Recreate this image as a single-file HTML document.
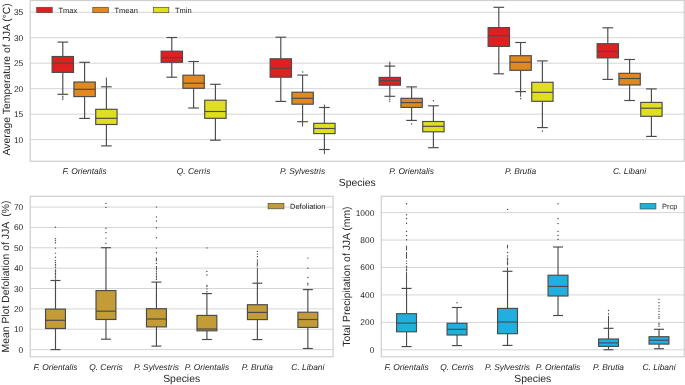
<!DOCTYPE html>
<html><head><meta charset="utf-8"><style>
html,body{margin:0;padding:0;background:#fff;width:685px;height:385px;overflow:hidden}
svg{display:block;font-family:"Liberation Sans",sans-serif;text-rendering:geometricPrecision}
</style></head><body>
<svg width="685" height="385" viewBox="0 0 685 385">
<rect width="685" height="385" fill="#fff"/>
<line x1="30.25" y1="12.28" x2="684.25" y2="12.28" stroke="#d5d5d5" stroke-width="1"/>
<line x1="30.25" y1="37.74" x2="684.25" y2="37.74" stroke="#d5d5d5" stroke-width="1"/>
<line x1="30.25" y1="63.20" x2="684.25" y2="63.20" stroke="#d5d5d5" stroke-width="1"/>
<line x1="30.25" y1="88.66" x2="684.25" y2="88.66" stroke="#d5d5d5" stroke-width="1"/>
<line x1="30.25" y1="114.12" x2="684.25" y2="114.12" stroke="#d5d5d5" stroke-width="1"/>
<line x1="30.25" y1="139.58" x2="684.25" y2="139.58" stroke="#d5d5d5" stroke-width="1"/>
<rect x="30.25" y="0.50" width="654.00" height="160.80" fill="none" stroke="#d0d0d0" stroke-width="1.25"/>
<line x1="62.80" y1="42.10" x2="62.80" y2="56.50" stroke="#4a4a4a" stroke-width="1.15"/>
<line x1="62.80" y1="72.40" x2="62.80" y2="94.30" stroke="#4a4a4a" stroke-width="1.15"/>
<line x1="57.46" y1="42.10" x2="68.14" y2="42.10" stroke="#4a4a4a" stroke-width="1.15"/>
<line x1="57.46" y1="94.30" x2="68.14" y2="94.30" stroke="#4a4a4a" stroke-width="1.15"/>
<rect x="52.12" y="56.50" width="21.36" height="15.90" fill="#df2020" stroke="#4a4a4a" stroke-width="1.15"/>
<line x1="52.12" y1="63.10" x2="73.48" y2="63.10" stroke="#4a4a4a" stroke-width="1.15"/>
<circle cx="62.80" cy="96.20" r="0.7" fill="#4a4a4a"/>
<circle cx="62.80" cy="97.70" r="0.7" fill="#4a4a4a"/>
<circle cx="62.80" cy="99.30" r="0.7" fill="#4a4a4a"/>
<line x1="84.60" y1="62.30" x2="84.60" y2="82.00" stroke="#4a4a4a" stroke-width="1.15"/>
<line x1="84.60" y1="96.60" x2="84.60" y2="118.40" stroke="#4a4a4a" stroke-width="1.15"/>
<line x1="79.26" y1="62.30" x2="89.94" y2="62.30" stroke="#4a4a4a" stroke-width="1.15"/>
<line x1="79.26" y1="118.40" x2="89.94" y2="118.40" stroke="#4a4a4a" stroke-width="1.15"/>
<rect x="73.92" y="82.00" width="21.36" height="14.60" fill="#df8920" stroke="#4a4a4a" stroke-width="1.15"/>
<line x1="73.92" y1="89.30" x2="95.28" y2="89.30" stroke="#4a4a4a" stroke-width="1.15"/>
<line x1="106.40" y1="86.80" x2="106.40" y2="109.30" stroke="#4a4a4a" stroke-width="1.15"/>
<line x1="106.40" y1="124.50" x2="106.40" y2="145.90" stroke="#4a4a4a" stroke-width="1.15"/>
<line x1="101.06" y1="86.80" x2="111.74" y2="86.80" stroke="#4a4a4a" stroke-width="1.15"/>
<line x1="101.06" y1="145.90" x2="111.74" y2="145.90" stroke="#4a4a4a" stroke-width="1.15"/>
<rect x="95.72" y="109.30" width="21.36" height="15.20" fill="#dfdf20" stroke="#4a4a4a" stroke-width="1.15"/>
<line x1="95.72" y1="118.30" x2="117.08" y2="118.30" stroke="#4a4a4a" stroke-width="1.15"/>
<circle cx="106.40" cy="78.30" r="0.7" fill="#4a4a4a"/>
<line x1="106.40" y1="79.00" x2="106.40" y2="86.80" stroke="#4a4a4a" stroke-width="1.0"/>
<line x1="171.80" y1="37.50" x2="171.80" y2="51.20" stroke="#4a4a4a" stroke-width="1.15"/>
<line x1="171.80" y1="62.30" x2="171.80" y2="77.20" stroke="#4a4a4a" stroke-width="1.15"/>
<line x1="166.46" y1="37.50" x2="177.14" y2="37.50" stroke="#4a4a4a" stroke-width="1.15"/>
<line x1="166.46" y1="77.20" x2="177.14" y2="77.20" stroke="#4a4a4a" stroke-width="1.15"/>
<rect x="161.12" y="51.20" width="21.36" height="11.10" fill="#df2020" stroke="#4a4a4a" stroke-width="1.15"/>
<line x1="161.12" y1="57.60" x2="182.48" y2="57.60" stroke="#4a4a4a" stroke-width="1.15"/>
<line x1="193.60" y1="61.50" x2="193.60" y2="75.20" stroke="#4a4a4a" stroke-width="1.15"/>
<line x1="193.60" y1="88.30" x2="193.60" y2="108.00" stroke="#4a4a4a" stroke-width="1.15"/>
<line x1="188.26" y1="61.50" x2="198.94" y2="61.50" stroke="#4a4a4a" stroke-width="1.15"/>
<line x1="188.26" y1="108.00" x2="198.94" y2="108.00" stroke="#4a4a4a" stroke-width="1.15"/>
<rect x="182.92" y="75.20" width="21.36" height="13.10" fill="#df8920" stroke="#4a4a4a" stroke-width="1.15"/>
<line x1="182.92" y1="83.20" x2="204.28" y2="83.20" stroke="#4a4a4a" stroke-width="1.15"/>
<line x1="215.40" y1="84.30" x2="215.40" y2="100.20" stroke="#4a4a4a" stroke-width="1.15"/>
<line x1="215.40" y1="118.30" x2="215.40" y2="140.20" stroke="#4a4a4a" stroke-width="1.15"/>
<line x1="210.06" y1="84.30" x2="220.74" y2="84.30" stroke="#4a4a4a" stroke-width="1.15"/>
<line x1="210.06" y1="140.20" x2="220.74" y2="140.20" stroke="#4a4a4a" stroke-width="1.15"/>
<rect x="204.72" y="100.20" width="21.36" height="18.10" fill="#dfdf20" stroke="#4a4a4a" stroke-width="1.15"/>
<line x1="204.72" y1="111.50" x2="226.08" y2="111.50" stroke="#4a4a4a" stroke-width="1.15"/>
<line x1="280.80" y1="37.20" x2="280.80" y2="58.80" stroke="#4a4a4a" stroke-width="1.15"/>
<line x1="280.80" y1="77.20" x2="280.80" y2="101.40" stroke="#4a4a4a" stroke-width="1.15"/>
<line x1="275.46" y1="37.20" x2="286.14" y2="37.20" stroke="#4a4a4a" stroke-width="1.15"/>
<line x1="275.46" y1="101.40" x2="286.14" y2="101.40" stroke="#4a4a4a" stroke-width="1.15"/>
<rect x="270.12" y="58.80" width="21.36" height="18.40" fill="#df2020" stroke="#4a4a4a" stroke-width="1.15"/>
<line x1="270.12" y1="68.20" x2="291.48" y2="68.20" stroke="#4a4a4a" stroke-width="1.15"/>
<line x1="302.60" y1="75.10" x2="302.60" y2="92.20" stroke="#4a4a4a" stroke-width="1.15"/>
<line x1="302.60" y1="104.20" x2="302.60" y2="121.70" stroke="#4a4a4a" stroke-width="1.15"/>
<line x1="297.26" y1="75.10" x2="307.94" y2="75.10" stroke="#4a4a4a" stroke-width="1.15"/>
<line x1="297.26" y1="121.70" x2="307.94" y2="121.70" stroke="#4a4a4a" stroke-width="1.15"/>
<rect x="291.92" y="92.20" width="21.36" height="12.00" fill="#df8920" stroke="#4a4a4a" stroke-width="1.15"/>
<line x1="291.92" y1="98.30" x2="313.28" y2="98.30" stroke="#4a4a4a" stroke-width="1.15"/>
<circle cx="302.60" cy="72.00" r="0.7" fill="#4a4a4a"/>
<line x1="302.60" y1="121.70" x2="302.60" y2="126.50" stroke="#4a4a4a" stroke-width="1.0"/>
<line x1="324.40" y1="107.50" x2="324.40" y2="123.30" stroke="#4a4a4a" stroke-width="1.15"/>
<line x1="324.40" y1="133.60" x2="324.40" y2="149.50" stroke="#4a4a4a" stroke-width="1.15"/>
<line x1="319.06" y1="107.50" x2="329.74" y2="107.50" stroke="#4a4a4a" stroke-width="1.15"/>
<line x1="319.06" y1="149.50" x2="329.74" y2="149.50" stroke="#4a4a4a" stroke-width="1.15"/>
<rect x="313.72" y="123.30" width="21.36" height="10.30" fill="#dfdf20" stroke="#4a4a4a" stroke-width="1.15"/>
<line x1="313.72" y1="128.50" x2="335.08" y2="128.50" stroke="#4a4a4a" stroke-width="1.15"/>
<line x1="324.40" y1="104.60" x2="324.40" y2="107.50" stroke="#4a4a4a" stroke-width="1.0"/>
<line x1="324.40" y1="149.50" x2="324.40" y2="154.20" stroke="#4a4a4a" stroke-width="1.0"/>
<line x1="389.80" y1="66.10" x2="389.80" y2="77.40" stroke="#4a4a4a" stroke-width="1.15"/>
<line x1="389.80" y1="85.20" x2="389.80" y2="96.30" stroke="#4a4a4a" stroke-width="1.15"/>
<line x1="384.46" y1="66.10" x2="395.14" y2="66.10" stroke="#4a4a4a" stroke-width="1.15"/>
<line x1="384.46" y1="96.30" x2="395.14" y2="96.30" stroke="#4a4a4a" stroke-width="1.15"/>
<rect x="379.12" y="77.40" width="21.36" height="7.80" fill="#df2020" stroke="#4a4a4a" stroke-width="1.15"/>
<line x1="379.12" y1="80.70" x2="400.48" y2="80.70" stroke="#4a4a4a" stroke-width="1.15"/>
<circle cx="389.80" cy="62.10" r="0.7" fill="#4a4a4a"/>
<circle cx="389.80" cy="63.40" r="0.7" fill="#4a4a4a"/>
<circle cx="389.80" cy="64.70" r="0.7" fill="#4a4a4a"/>
<circle cx="389.80" cy="66.00" r="0.7" fill="#4a4a4a"/>
<circle cx="389.80" cy="97.90" r="0.7" fill="#4a4a4a"/>
<circle cx="389.80" cy="99.75" r="0.7" fill="#4a4a4a"/>
<circle cx="389.80" cy="101.60" r="0.7" fill="#4a4a4a"/>
<line x1="411.60" y1="86.90" x2="411.60" y2="98.30" stroke="#4a4a4a" stroke-width="1.15"/>
<line x1="411.60" y1="107.40" x2="411.60" y2="120.40" stroke="#4a4a4a" stroke-width="1.15"/>
<line x1="406.26" y1="86.90" x2="416.94" y2="86.90" stroke="#4a4a4a" stroke-width="1.15"/>
<line x1="406.26" y1="120.40" x2="416.94" y2="120.40" stroke="#4a4a4a" stroke-width="1.15"/>
<rect x="400.92" y="98.30" width="21.36" height="9.10" fill="#df8920" stroke="#4a4a4a" stroke-width="1.15"/>
<line x1="400.92" y1="102.60" x2="422.28" y2="102.60" stroke="#4a4a4a" stroke-width="1.15"/>
<circle cx="411.60" cy="124.00" r="0.7" fill="#4a4a4a"/>
<line x1="433.40" y1="105.80" x2="433.40" y2="121.50" stroke="#4a4a4a" stroke-width="1.15"/>
<line x1="433.40" y1="131.80" x2="433.40" y2="147.70" stroke="#4a4a4a" stroke-width="1.15"/>
<line x1="428.06" y1="105.80" x2="438.74" y2="105.80" stroke="#4a4a4a" stroke-width="1.15"/>
<line x1="428.06" y1="147.70" x2="438.74" y2="147.70" stroke="#4a4a4a" stroke-width="1.15"/>
<rect x="422.72" y="121.50" width="21.36" height="10.30" fill="#dfdf20" stroke="#4a4a4a" stroke-width="1.15"/>
<line x1="422.72" y1="126.30" x2="444.08" y2="126.30" stroke="#4a4a4a" stroke-width="1.15"/>
<circle cx="433.40" cy="100.80" r="0.7" fill="#4a4a4a"/>
<line x1="498.80" y1="7.30" x2="498.80" y2="27.60" stroke="#4a4a4a" stroke-width="1.15"/>
<line x1="498.80" y1="46.40" x2="498.80" y2="73.80" stroke="#4a4a4a" stroke-width="1.15"/>
<line x1="493.46" y1="7.30" x2="504.14" y2="7.30" stroke="#4a4a4a" stroke-width="1.15"/>
<line x1="493.46" y1="73.80" x2="504.14" y2="73.80" stroke="#4a4a4a" stroke-width="1.15"/>
<rect x="488.12" y="27.60" width="21.36" height="18.80" fill="#df2020" stroke="#4a4a4a" stroke-width="1.15"/>
<line x1="488.12" y1="35.80" x2="509.48" y2="35.80" stroke="#4a4a4a" stroke-width="1.15"/>
<line x1="520.60" y1="42.50" x2="520.60" y2="55.70" stroke="#4a4a4a" stroke-width="1.15"/>
<line x1="520.60" y1="70.30" x2="520.60" y2="91.60" stroke="#4a4a4a" stroke-width="1.15"/>
<line x1="515.26" y1="42.50" x2="525.94" y2="42.50" stroke="#4a4a4a" stroke-width="1.15"/>
<line x1="515.26" y1="91.60" x2="525.94" y2="91.60" stroke="#4a4a4a" stroke-width="1.15"/>
<rect x="509.92" y="55.70" width="21.36" height="14.60" fill="#df8920" stroke="#4a4a4a" stroke-width="1.15"/>
<line x1="509.92" y1="62.20" x2="531.28" y2="62.20" stroke="#4a4a4a" stroke-width="1.15"/>
<circle cx="520.60" cy="98.80" r="0.7" fill="#4a4a4a"/>
<line x1="520.60" y1="91.60" x2="520.60" y2="96.80" stroke="#4a4a4a" stroke-width="1.0"/>
<line x1="542.40" y1="60.90" x2="542.40" y2="82.30" stroke="#4a4a4a" stroke-width="1.15"/>
<line x1="542.40" y1="101.30" x2="542.40" y2="127.60" stroke="#4a4a4a" stroke-width="1.15"/>
<line x1="537.06" y1="60.90" x2="547.74" y2="60.90" stroke="#4a4a4a" stroke-width="1.15"/>
<line x1="537.06" y1="127.60" x2="547.74" y2="127.60" stroke="#4a4a4a" stroke-width="1.15"/>
<rect x="531.72" y="82.30" width="21.36" height="19.00" fill="#dfdf20" stroke="#4a4a4a" stroke-width="1.15"/>
<line x1="531.72" y1="92.30" x2="553.08" y2="92.30" stroke="#4a4a4a" stroke-width="1.15"/>
<circle cx="542.40" cy="131.00" r="0.7" fill="#4a4a4a"/>
<line x1="607.80" y1="27.80" x2="607.80" y2="43.70" stroke="#4a4a4a" stroke-width="1.15"/>
<line x1="607.80" y1="57.90" x2="607.80" y2="79.40" stroke="#4a4a4a" stroke-width="1.15"/>
<line x1="602.46" y1="27.80" x2="613.14" y2="27.80" stroke="#4a4a4a" stroke-width="1.15"/>
<line x1="602.46" y1="79.40" x2="613.14" y2="79.40" stroke="#4a4a4a" stroke-width="1.15"/>
<rect x="597.12" y="43.70" width="21.36" height="14.20" fill="#df2020" stroke="#4a4a4a" stroke-width="1.15"/>
<line x1="597.12" y1="51.50" x2="618.48" y2="51.50" stroke="#4a4a4a" stroke-width="1.15"/>
<line x1="629.60" y1="59.50" x2="629.60" y2="73.30" stroke="#4a4a4a" stroke-width="1.15"/>
<line x1="629.60" y1="85.00" x2="629.60" y2="100.50" stroke="#4a4a4a" stroke-width="1.15"/>
<line x1="624.26" y1="59.50" x2="634.94" y2="59.50" stroke="#4a4a4a" stroke-width="1.15"/>
<line x1="624.26" y1="100.50" x2="634.94" y2="100.50" stroke="#4a4a4a" stroke-width="1.15"/>
<rect x="618.92" y="73.30" width="21.36" height="11.70" fill="#df8920" stroke="#4a4a4a" stroke-width="1.15"/>
<line x1="618.92" y1="78.50" x2="640.28" y2="78.50" stroke="#4a4a4a" stroke-width="1.15"/>
<line x1="651.40" y1="88.90" x2="651.40" y2="102.40" stroke="#4a4a4a" stroke-width="1.15"/>
<line x1="651.40" y1="116.30" x2="651.40" y2="136.40" stroke="#4a4a4a" stroke-width="1.15"/>
<line x1="646.06" y1="88.90" x2="656.74" y2="88.90" stroke="#4a4a4a" stroke-width="1.15"/>
<line x1="646.06" y1="136.40" x2="656.74" y2="136.40" stroke="#4a4a4a" stroke-width="1.15"/>
<rect x="640.72" y="102.40" width="21.36" height="13.90" fill="#dfdf20" stroke="#4a4a4a" stroke-width="1.15"/>
<line x1="640.72" y1="108.20" x2="662.08" y2="108.20" stroke="#4a4a4a" stroke-width="1.15"/>
<rect x="36.70" y="7.30" width="15.50" height="5.40" fill="#df2020" stroke="#4a4a4a" stroke-width="0.7"/>
<rect x="92.80" y="7.30" width="15.50" height="5.40" fill="#df8920" stroke="#4a4a4a" stroke-width="0.7"/>
<rect x="153.30" y="7.30" width="15.50" height="5.40" fill="#dfdf20" stroke="#4a4a4a" stroke-width="0.7"/>
<line x1="30.25" y1="207.08" x2="333.10" y2="207.08" stroke="#d5d5d5" stroke-width="1"/>
<line x1="30.25" y1="227.44" x2="333.10" y2="227.44" stroke="#d5d5d5" stroke-width="1"/>
<line x1="30.25" y1="247.80" x2="333.10" y2="247.80" stroke="#d5d5d5" stroke-width="1"/>
<line x1="30.25" y1="268.16" x2="333.10" y2="268.16" stroke="#d5d5d5" stroke-width="1"/>
<line x1="30.25" y1="288.52" x2="333.10" y2="288.52" stroke="#d5d5d5" stroke-width="1"/>
<line x1="30.25" y1="308.88" x2="333.10" y2="308.88" stroke="#d5d5d5" stroke-width="1"/>
<line x1="30.25" y1="329.24" x2="333.10" y2="329.24" stroke="#d5d5d5" stroke-width="1"/>
<line x1="30.25" y1="349.60" x2="333.10" y2="349.60" stroke="#d5d5d5" stroke-width="1"/>
<rect x="30.25" y="196.30" width="302.85" height="160.50" fill="none" stroke="#d0d0d0" stroke-width="1.25"/>
<line x1="55.49" y1="280.50" x2="55.49" y2="309.10" stroke="#4a4a4a" stroke-width="1.15"/>
<line x1="55.49" y1="328.50" x2="55.49" y2="349.60" stroke="#4a4a4a" stroke-width="1.15"/>
<line x1="50.51" y1="280.50" x2="60.46" y2="280.50" stroke="#4a4a4a" stroke-width="1.15"/>
<line x1="50.51" y1="349.60" x2="60.46" y2="349.60" stroke="#4a4a4a" stroke-width="1.15"/>
<rect x="45.54" y="309.10" width="19.90" height="19.40" fill="#c39b37" stroke="#4a4a4a" stroke-width="1.15"/>
<line x1="45.54" y1="320.30" x2="65.44" y2="320.30" stroke="#4a4a4a" stroke-width="1.15"/>
<circle cx="55.49" cy="227.30" r="0.7" fill="#4a4a4a"/>
<circle cx="55.49" cy="238.75" r="0.7" fill="#4a4a4a"/>
<circle cx="55.49" cy="240.60" r="0.7" fill="#4a4a4a"/>
<circle cx="55.49" cy="242.70" r="0.7" fill="#4a4a4a"/>
<circle cx="55.49" cy="248.10" r="0.7" fill="#4a4a4a"/>
<circle cx="55.49" cy="253.10" r="0.7" fill="#4a4a4a"/>
<circle cx="55.49" cy="257.30" r="0.7" fill="#4a4a4a"/>
<circle cx="55.49" cy="260.60" r="0.7" fill="#4a4a4a"/>
<circle cx="55.49" cy="262.50" r="0.7" fill="#4a4a4a"/>
<circle cx="55.49" cy="264.40" r="0.7" fill="#4a4a4a"/>
<circle cx="55.49" cy="265.90" r="0.7" fill="#4a4a4a"/>
<circle cx="55.49" cy="267.60" r="0.7" fill="#4a4a4a"/>
<circle cx="55.49" cy="270.00" r="0.7" fill="#4a4a4a"/>
<circle cx="55.49" cy="271.00" r="0.7" fill="#4a4a4a"/>
<circle cx="55.49" cy="272.00" r="0.7" fill="#4a4a4a"/>
<circle cx="55.49" cy="273.40" r="0.7" fill="#4a4a4a"/>
<circle cx="55.49" cy="274.80" r="0.7" fill="#4a4a4a"/>
<circle cx="55.49" cy="276.20" r="0.7" fill="#4a4a4a"/>
<circle cx="55.49" cy="277.60" r="0.7" fill="#4a4a4a"/>
<circle cx="55.49" cy="279.00" r="0.7" fill="#4a4a4a"/>
<line x1="105.96" y1="247.70" x2="105.96" y2="290.60" stroke="#4a4a4a" stroke-width="1.15"/>
<line x1="105.96" y1="319.50" x2="105.96" y2="339.20" stroke="#4a4a4a" stroke-width="1.15"/>
<line x1="100.99" y1="247.70" x2="110.94" y2="247.70" stroke="#4a4a4a" stroke-width="1.15"/>
<line x1="100.99" y1="339.20" x2="110.94" y2="339.20" stroke="#4a4a4a" stroke-width="1.15"/>
<rect x="96.01" y="290.60" width="19.90" height="28.90" fill="#c39b37" stroke="#4a4a4a" stroke-width="1.15"/>
<line x1="96.01" y1="311.20" x2="115.91" y2="311.20" stroke="#4a4a4a" stroke-width="1.15"/>
<circle cx="105.96" cy="203.50" r="0.7" fill="#4a4a4a"/>
<circle cx="105.96" cy="207.40" r="0.7" fill="#4a4a4a"/>
<circle cx="105.96" cy="228.30" r="0.7" fill="#4a4a4a"/>
<circle cx="105.96" cy="232.80" r="0.7" fill="#4a4a4a"/>
<circle cx="105.96" cy="238.10" r="0.7" fill="#4a4a4a"/>
<circle cx="105.96" cy="243.20" r="0.7" fill="#4a4a4a"/>
<line x1="156.44" y1="282.10" x2="156.44" y2="308.70" stroke="#4a4a4a" stroke-width="1.15"/>
<line x1="156.44" y1="326.90" x2="156.44" y2="346.10" stroke="#4a4a4a" stroke-width="1.15"/>
<line x1="151.46" y1="282.10" x2="161.41" y2="282.10" stroke="#4a4a4a" stroke-width="1.15"/>
<line x1="151.46" y1="346.10" x2="161.41" y2="346.10" stroke="#4a4a4a" stroke-width="1.15"/>
<rect x="146.49" y="308.70" width="19.90" height="18.20" fill="#c39b37" stroke="#4a4a4a" stroke-width="1.15"/>
<line x1="146.49" y1="319.00" x2="166.39" y2="319.00" stroke="#4a4a4a" stroke-width="1.15"/>
<circle cx="156.44" cy="207.10" r="0.7" fill="#4a4a4a"/>
<circle cx="156.44" cy="216.90" r="0.7" fill="#4a4a4a"/>
<circle cx="156.44" cy="221.00" r="0.7" fill="#4a4a4a"/>
<circle cx="156.44" cy="227.70" r="0.7" fill="#4a4a4a"/>
<circle cx="156.44" cy="237.70" r="0.7" fill="#4a4a4a"/>
<circle cx="156.44" cy="248.10" r="0.7" fill="#4a4a4a"/>
<circle cx="156.44" cy="252.70" r="0.7" fill="#4a4a4a"/>
<circle cx="156.44" cy="263.40" r="0.7" fill="#4a4a4a"/>
<circle cx="156.44" cy="258.20" r="0.7" fill="#4a4a4a"/>
<circle cx="156.44" cy="259.50" r="0.7" fill="#4a4a4a"/>
<circle cx="156.44" cy="260.80" r="0.7" fill="#4a4a4a"/>
<line x1="156.44" y1="266.00" x2="156.44" y2="270.50" stroke="#4a4a4a" stroke-width="1.0"/>
<circle cx="156.44" cy="271.80" r="0.7" fill="#4a4a4a"/>
<circle cx="156.44" cy="273.34" r="0.7" fill="#4a4a4a"/>
<circle cx="156.44" cy="274.88" r="0.7" fill="#4a4a4a"/>
<circle cx="156.44" cy="276.42" r="0.7" fill="#4a4a4a"/>
<circle cx="156.44" cy="277.96" r="0.7" fill="#4a4a4a"/>
<circle cx="156.44" cy="279.50" r="0.7" fill="#4a4a4a"/>
<line x1="206.91" y1="293.60" x2="206.91" y2="315.40" stroke="#4a4a4a" stroke-width="1.15"/>
<line x1="206.91" y1="330.80" x2="206.91" y2="339.50" stroke="#4a4a4a" stroke-width="1.15"/>
<line x1="201.94" y1="293.60" x2="211.89" y2="293.60" stroke="#4a4a4a" stroke-width="1.15"/>
<line x1="201.94" y1="339.50" x2="211.89" y2="339.50" stroke="#4a4a4a" stroke-width="1.15"/>
<rect x="196.96" y="315.40" width="19.90" height="15.40" fill="#c39b37" stroke="#4a4a4a" stroke-width="1.15"/>
<line x1="196.96" y1="329.00" x2="216.86" y2="329.00" stroke="#4a4a4a" stroke-width="1.15"/>
<circle cx="206.91" cy="247.90" r="0.7" fill="#4a4a4a"/>
<circle cx="206.91" cy="271.40" r="0.7" fill="#4a4a4a"/>
<circle cx="206.91" cy="275.00" r="0.7" fill="#4a4a4a"/>
<circle cx="206.91" cy="285.40" r="0.7" fill="#4a4a4a"/>
<circle cx="206.91" cy="286.60" r="0.7" fill="#4a4a4a"/>
<circle cx="206.91" cy="288.90" r="0.7" fill="#4a4a4a"/>
<circle cx="206.91" cy="291.70" r="0.7" fill="#4a4a4a"/>
<line x1="257.39" y1="283.20" x2="257.39" y2="304.70" stroke="#4a4a4a" stroke-width="1.15"/>
<line x1="257.39" y1="319.60" x2="257.39" y2="339.60" stroke="#4a4a4a" stroke-width="1.15"/>
<line x1="252.41" y1="283.20" x2="262.36" y2="283.20" stroke="#4a4a4a" stroke-width="1.15"/>
<line x1="252.41" y1="339.60" x2="262.36" y2="339.60" stroke="#4a4a4a" stroke-width="1.15"/>
<rect x="247.44" y="304.70" width="19.90" height="14.90" fill="#c39b37" stroke="#4a4a4a" stroke-width="1.15"/>
<line x1="247.44" y1="312.40" x2="267.34" y2="312.40" stroke="#4a4a4a" stroke-width="1.15"/>
<circle cx="257.39" cy="251.40" r="0.7" fill="#4a4a4a"/>
<circle cx="257.39" cy="254.10" r="0.7" fill="#4a4a4a"/>
<circle cx="257.39" cy="256.70" r="0.7" fill="#4a4a4a"/>
<circle cx="257.39" cy="260.00" r="0.7" fill="#4a4a4a"/>
<circle cx="257.39" cy="262.00" r="0.7" fill="#4a4a4a"/>
<circle cx="257.39" cy="263.33" r="0.7" fill="#4a4a4a"/>
<circle cx="257.39" cy="264.67" r="0.7" fill="#4a4a4a"/>
<circle cx="257.39" cy="266.00" r="0.7" fill="#4a4a4a"/>
<line x1="257.39" y1="267.80" x2="257.39" y2="283.20" stroke="#4a4a4a" stroke-width="1.0"/>
<line x1="307.86" y1="289.60" x2="307.86" y2="312.20" stroke="#4a4a4a" stroke-width="1.15"/>
<line x1="307.86" y1="327.40" x2="307.86" y2="348.50" stroke="#4a4a4a" stroke-width="1.15"/>
<line x1="302.89" y1="289.60" x2="312.84" y2="289.60" stroke="#4a4a4a" stroke-width="1.15"/>
<line x1="302.89" y1="348.50" x2="312.84" y2="348.50" stroke="#4a4a4a" stroke-width="1.15"/>
<rect x="297.91" y="312.20" width="19.90" height="15.20" fill="#c39b37" stroke="#4a4a4a" stroke-width="1.15"/>
<line x1="297.91" y1="319.50" x2="317.81" y2="319.50" stroke="#4a4a4a" stroke-width="1.15"/>
<circle cx="307.86" cy="258.10" r="0.7" fill="#4a4a4a"/>
<circle cx="307.86" cy="268.20" r="0.7" fill="#4a4a4a"/>
<circle cx="307.86" cy="277.50" r="0.7" fill="#4a4a4a"/>
<circle cx="307.86" cy="283.50" r="0.7" fill="#4a4a4a"/>
<circle cx="307.86" cy="284.90" r="0.7" fill="#4a4a4a"/>
<rect x="268.10" y="203.40" width="15.80" height="5.40" fill="#c39b37" stroke="#4a4a4a" stroke-width="0.7"/>
<line x1="381.30" y1="212.60" x2="684.25" y2="212.60" stroke="#d5d5d5" stroke-width="1"/>
<line x1="381.30" y1="240.04" x2="684.25" y2="240.04" stroke="#d5d5d5" stroke-width="1"/>
<line x1="381.30" y1="267.48" x2="684.25" y2="267.48" stroke="#d5d5d5" stroke-width="1"/>
<line x1="381.30" y1="294.92" x2="684.25" y2="294.92" stroke="#d5d5d5" stroke-width="1"/>
<line x1="381.30" y1="322.36" x2="684.25" y2="322.36" stroke="#d5d5d5" stroke-width="1"/>
<line x1="381.30" y1="349.80" x2="684.25" y2="349.80" stroke="#d5d5d5" stroke-width="1"/>
<rect x="381.30" y="196.30" width="302.95" height="160.50" fill="none" stroke="#d0d0d0" stroke-width="1.25"/>
<line x1="406.55" y1="288.40" x2="406.55" y2="313.70" stroke="#4a4a4a" stroke-width="1.15"/>
<line x1="406.55" y1="331.80" x2="406.55" y2="346.60" stroke="#4a4a4a" stroke-width="1.15"/>
<line x1="401.57" y1="288.40" x2="411.52" y2="288.40" stroke="#4a4a4a" stroke-width="1.15"/>
<line x1="401.57" y1="346.60" x2="411.52" y2="346.60" stroke="#4a4a4a" stroke-width="1.15"/>
<rect x="396.60" y="313.70" width="19.90" height="18.10" fill="#20afdf" stroke="#4a4a4a" stroke-width="1.15"/>
<line x1="396.60" y1="323.10" x2="416.50" y2="323.10" stroke="#4a4a4a" stroke-width="1.15"/>
<circle cx="406.55" cy="203.70" r="0.7" fill="#4a4a4a"/>
<circle cx="406.55" cy="214.70" r="0.7" fill="#4a4a4a"/>
<circle cx="406.55" cy="218.50" r="0.7" fill="#4a4a4a"/>
<circle cx="406.55" cy="223.30" r="0.7" fill="#4a4a4a"/>
<circle cx="406.55" cy="231.40" r="0.7" fill="#4a4a4a"/>
<circle cx="406.55" cy="235.50" r="0.7" fill="#4a4a4a"/>
<circle cx="406.55" cy="239.70" r="0.7" fill="#4a4a4a"/>
<circle cx="406.55" cy="261.10" r="0.7" fill="#4a4a4a"/>
<circle cx="406.55" cy="263.60" r="0.7" fill="#4a4a4a"/>
<line x1="406.55" y1="245.70" x2="406.55" y2="250.50" stroke="#4a4a4a" stroke-width="1.0"/>
<line x1="406.55" y1="252.00" x2="406.55" y2="258.60" stroke="#4a4a4a" stroke-width="1.0"/>
<circle cx="406.55" cy="266.40" r="0.7" fill="#4a4a4a"/>
<circle cx="406.55" cy="267.83" r="0.7" fill="#4a4a4a"/>
<circle cx="406.55" cy="269.27" r="0.7" fill="#4a4a4a"/>
<circle cx="406.55" cy="270.70" r="0.7" fill="#4a4a4a"/>
<line x1="406.55" y1="272.10" x2="406.55" y2="288.40" stroke="#4a4a4a" stroke-width="1.0"/>
<line x1="457.04" y1="307.50" x2="457.04" y2="323.30" stroke="#4a4a4a" stroke-width="1.15"/>
<line x1="457.04" y1="335.00" x2="457.04" y2="345.60" stroke="#4a4a4a" stroke-width="1.15"/>
<line x1="452.06" y1="307.50" x2="462.01" y2="307.50" stroke="#4a4a4a" stroke-width="1.15"/>
<line x1="452.06" y1="345.60" x2="462.01" y2="345.60" stroke="#4a4a4a" stroke-width="1.15"/>
<rect x="447.09" y="323.30" width="19.90" height="11.70" fill="#20afdf" stroke="#4a4a4a" stroke-width="1.15"/>
<line x1="447.09" y1="329.30" x2="466.99" y2="329.30" stroke="#4a4a4a" stroke-width="1.15"/>
<circle cx="457.04" cy="302.80" r="0.7" fill="#4a4a4a"/>
<line x1="507.53" y1="271.30" x2="507.53" y2="308.40" stroke="#4a4a4a" stroke-width="1.15"/>
<line x1="507.53" y1="333.70" x2="507.53" y2="345.40" stroke="#4a4a4a" stroke-width="1.15"/>
<line x1="502.55" y1="271.30" x2="512.50" y2="271.30" stroke="#4a4a4a" stroke-width="1.15"/>
<line x1="502.55" y1="345.40" x2="512.50" y2="345.40" stroke="#4a4a4a" stroke-width="1.15"/>
<rect x="497.58" y="308.40" width="19.90" height="25.30" fill="#20afdf" stroke="#4a4a4a" stroke-width="1.15"/>
<line x1="497.58" y1="322.00" x2="517.48" y2="322.00" stroke="#4a4a4a" stroke-width="1.15"/>
<circle cx="507.53" cy="209.40" r="0.7" fill="#4a4a4a"/>
<circle cx="507.53" cy="252.50" r="0.7" fill="#4a4a4a"/>
<circle cx="507.53" cy="256.00" r="0.7" fill="#4a4a4a"/>
<line x1="507.53" y1="244.90" x2="507.53" y2="248.50" stroke="#4a4a4a" stroke-width="1.0"/>
<circle cx="507.53" cy="258.40" r="0.7" fill="#4a4a4a"/>
<circle cx="507.53" cy="259.68" r="0.7" fill="#4a4a4a"/>
<circle cx="507.53" cy="260.96" r="0.7" fill="#4a4a4a"/>
<circle cx="507.53" cy="262.24" r="0.7" fill="#4a4a4a"/>
<circle cx="507.53" cy="263.52" r="0.7" fill="#4a4a4a"/>
<circle cx="507.53" cy="264.80" r="0.7" fill="#4a4a4a"/>
<line x1="507.53" y1="267.20" x2="507.53" y2="271.30" stroke="#4a4a4a" stroke-width="1.0"/>
<line x1="558.02" y1="247.00" x2="558.02" y2="275.20" stroke="#4a4a4a" stroke-width="1.15"/>
<line x1="558.02" y1="296.00" x2="558.02" y2="315.50" stroke="#4a4a4a" stroke-width="1.15"/>
<line x1="553.05" y1="247.00" x2="563.00" y2="247.00" stroke="#4a4a4a" stroke-width="1.15"/>
<line x1="553.05" y1="315.50" x2="563.00" y2="315.50" stroke="#4a4a4a" stroke-width="1.15"/>
<rect x="548.07" y="275.20" width="19.90" height="20.80" fill="#20afdf" stroke="#4a4a4a" stroke-width="1.15"/>
<line x1="548.07" y1="286.40" x2="567.97" y2="286.40" stroke="#4a4a4a" stroke-width="1.15"/>
<circle cx="558.02" cy="203.70" r="0.7" fill="#4a4a4a"/>
<circle cx="558.02" cy="218.50" r="0.7" fill="#4a4a4a"/>
<circle cx="558.02" cy="223.50" r="0.7" fill="#4a4a4a"/>
<circle cx="558.02" cy="231.40" r="0.7" fill="#4a4a4a"/>
<circle cx="558.02" cy="235.50" r="0.7" fill="#4a4a4a"/>
<circle cx="558.02" cy="239.30" r="0.7" fill="#4a4a4a"/>
<line x1="608.51" y1="328.30" x2="608.51" y2="339.00" stroke="#4a4a4a" stroke-width="1.15"/>
<line x1="608.51" y1="346.40" x2="608.51" y2="349.70" stroke="#4a4a4a" stroke-width="1.15"/>
<line x1="603.54" y1="328.30" x2="613.49" y2="328.30" stroke="#4a4a4a" stroke-width="1.15"/>
<line x1="603.54" y1="349.70" x2="613.49" y2="349.70" stroke="#4a4a4a" stroke-width="1.15"/>
<rect x="598.56" y="339.00" width="19.90" height="7.40" fill="#20afdf" stroke="#4a4a4a" stroke-width="1.15"/>
<line x1="598.56" y1="342.90" x2="618.46" y2="342.90" stroke="#4a4a4a" stroke-width="1.15"/>
<circle cx="608.51" cy="310.50" r="0.7" fill="#4a4a4a"/>
<line x1="608.51" y1="313.20" x2="608.51" y2="314.70" stroke="#4a4a4a" stroke-width="1.0"/>
<line x1="608.51" y1="315.90" x2="608.51" y2="328.30" stroke="#4a4a4a" stroke-width="1.0"/>
<line x1="659.00" y1="329.30" x2="659.00" y2="336.70" stroke="#4a4a4a" stroke-width="1.15"/>
<line x1="659.00" y1="344.10" x2="659.00" y2="348.70" stroke="#4a4a4a" stroke-width="1.15"/>
<line x1="654.03" y1="329.30" x2="663.98" y2="329.30" stroke="#4a4a4a" stroke-width="1.15"/>
<line x1="654.03" y1="348.70" x2="663.98" y2="348.70" stroke="#4a4a4a" stroke-width="1.15"/>
<rect x="649.05" y="336.70" width="19.90" height="7.40" fill="#20afdf" stroke="#4a4a4a" stroke-width="1.15"/>
<line x1="649.05" y1="340.20" x2="668.95" y2="340.20" stroke="#4a4a4a" stroke-width="1.15"/>
<circle cx="659.00" cy="299.40" r="0.7" fill="#4a4a4a"/>
<circle cx="659.00" cy="302.80" r="0.7" fill="#4a4a4a"/>
<circle cx="659.00" cy="305.90" r="0.7" fill="#4a4a4a"/>
<circle cx="659.00" cy="308.70" r="0.7" fill="#4a4a4a"/>
<circle cx="659.00" cy="311.40" r="0.7" fill="#4a4a4a"/>
<circle cx="659.00" cy="314.50" r="0.7" fill="#4a4a4a"/>
<circle cx="659.00" cy="316.80" r="0.7" fill="#4a4a4a"/>
<circle cx="659.00" cy="318.40" r="0.7" fill="#4a4a4a"/>
<circle cx="659.00" cy="323.30" r="0.7" fill="#4a4a4a"/>
<circle cx="659.00" cy="324.60" r="0.7" fill="#4a4a4a"/>
<circle cx="659.00" cy="326.20" r="0.7" fill="#4a4a4a"/>
<rect x="640.10" y="203.60" width="15.80" height="5.40" fill="#20afdf" stroke="#4a4a4a" stroke-width="0.7"/>
<g style="filter:grayscale(1)"><text x="23.25" y="15.28" font-size="8.4" text-anchor="end" fill="#262626" xml:space="preserve">35</text>
<text x="23.25" y="40.74" font-size="8.4" text-anchor="end" fill="#262626" xml:space="preserve">30</text>
<text x="23.25" y="66.20" font-size="8.4" text-anchor="end" fill="#262626" xml:space="preserve">25</text>
<text x="23.25" y="91.66" font-size="8.4" text-anchor="end" fill="#262626" xml:space="preserve">20</text>
<text x="23.25" y="117.12" font-size="8.4" text-anchor="end" fill="#262626" xml:space="preserve">15</text>
<text x="23.25" y="142.58" font-size="8.4" text-anchor="end" fill="#262626" xml:space="preserve">10</text>
<text x="84.60" y="174.00" font-size="8.4" text-anchor="middle" font-style="italic" fill="#262626" xml:space="preserve">F. Orientalis</text>
<text x="193.60" y="174.00" font-size="8.4" text-anchor="middle" font-style="italic" fill="#262626" xml:space="preserve">Q. Cerris</text>
<text x="302.60" y="174.00" font-size="8.4" text-anchor="middle" font-style="italic" fill="#262626" xml:space="preserve">P. Sylvestris</text>
<text x="411.60" y="174.00" font-size="8.4" text-anchor="middle" font-style="italic" fill="#262626" xml:space="preserve">P. Orientalis</text>
<text x="520.60" y="174.00" font-size="8.4" text-anchor="middle" font-style="italic" fill="#262626" xml:space="preserve">P. Brutia</text>
<text x="629.60" y="174.00" font-size="8.4" text-anchor="middle" font-style="italic" fill="#262626" xml:space="preserve">C. Libani</text>
<text x="357.30" y="185.90" font-size="10.4" text-anchor="middle" fill="#262626" xml:space="preserve">Species</text>
<text x="9.60" y="79.30" font-size="10.4" text-anchor="middle" transform="rotate(-90 9.60 79.30)" fill="#262626" xml:space="preserve">Average Temperature of JJA (°C)</text>
<text x="58.40" y="12.80" font-size="7.5" text-anchor="start" fill="#262626" xml:space="preserve">Tmax</text>
<text x="114.50" y="12.80" font-size="7.5" text-anchor="start" fill="#262626" xml:space="preserve">Tmean</text>
<text x="175.00" y="12.80" font-size="7.5" text-anchor="start" fill="#262626" xml:space="preserve">Tmin</text>
<text x="23.25" y="210.08" font-size="8.4" text-anchor="end" fill="#262626" xml:space="preserve">70</text>
<text x="23.25" y="230.44" font-size="8.4" text-anchor="end" fill="#262626" xml:space="preserve">60</text>
<text x="23.25" y="250.80" font-size="8.4" text-anchor="end" fill="#262626" xml:space="preserve">50</text>
<text x="23.25" y="271.16" font-size="8.4" text-anchor="end" fill="#262626" xml:space="preserve">40</text>
<text x="23.25" y="291.52" font-size="8.4" text-anchor="end" fill="#262626" xml:space="preserve">30</text>
<text x="23.25" y="311.88" font-size="8.4" text-anchor="end" fill="#262626" xml:space="preserve">20</text>
<text x="23.25" y="332.24" font-size="8.4" text-anchor="end" fill="#262626" xml:space="preserve">10</text>
<text x="23.25" y="352.60" font-size="8.4" text-anchor="end" fill="#262626" xml:space="preserve">0</text>
<text x="55.49" y="370.00" font-size="8.4" text-anchor="middle" font-style="italic" fill="#262626" xml:space="preserve">F. Orientalis</text>
<text x="105.96" y="370.00" font-size="8.4" text-anchor="middle" font-style="italic" fill="#262626" xml:space="preserve">Q. Cerris</text>
<text x="156.44" y="370.00" font-size="8.4" text-anchor="middle" font-style="italic" fill="#262626" xml:space="preserve">P. Sylvestris</text>
<text x="206.91" y="370.00" font-size="8.4" text-anchor="middle" font-style="italic" fill="#262626" xml:space="preserve">P. Orientalis</text>
<text x="257.39" y="370.00" font-size="8.4" text-anchor="middle" font-style="italic" fill="#262626" xml:space="preserve">P. Brutia</text>
<text x="307.86" y="370.00" font-size="8.4" text-anchor="middle" font-style="italic" fill="#262626" xml:space="preserve">C. Libani</text>
<text x="181.68" y="381.50" font-size="10.4" text-anchor="middle" fill="#262626" xml:space="preserve">Species</text>
<text x="9.20" y="276.50" font-size="10.4" text-anchor="middle" transform="rotate(-90 9.20 276.50)" fill="#262626" xml:space="preserve">Mean Plot Defoliation of JJA  (%)</text>
<text x="290.00" y="209.00" font-size="7.5" text-anchor="start" fill="#262626" xml:space="preserve">Defoliation</text>
<text x="374.30" y="215.60" font-size="8.4" text-anchor="end" fill="#262626" xml:space="preserve">1000</text>
<text x="374.30" y="243.04" font-size="8.4" text-anchor="end" fill="#262626" xml:space="preserve">800</text>
<text x="374.30" y="270.48" font-size="8.4" text-anchor="end" fill="#262626" xml:space="preserve">600</text>
<text x="374.30" y="297.92" font-size="8.4" text-anchor="end" fill="#262626" xml:space="preserve">400</text>
<text x="374.30" y="325.36" font-size="8.4" text-anchor="end" fill="#262626" xml:space="preserve">200</text>
<text x="374.30" y="352.80" font-size="8.4" text-anchor="end" fill="#262626" xml:space="preserve">0</text>
<text x="406.55" y="370.00" font-size="8.4" text-anchor="middle" font-style="italic" fill="#262626" xml:space="preserve">F. Orientalis</text>
<text x="457.04" y="370.00" font-size="8.4" text-anchor="middle" font-style="italic" fill="#262626" xml:space="preserve">Q. Cerris</text>
<text x="507.53" y="370.00" font-size="8.4" text-anchor="middle" font-style="italic" fill="#262626" xml:space="preserve">P. Sylvestris</text>
<text x="558.02" y="370.00" font-size="8.4" text-anchor="middle" font-style="italic" fill="#262626" xml:space="preserve">P. Orientalis</text>
<text x="608.51" y="370.00" font-size="8.4" text-anchor="middle" font-style="italic" fill="#262626" xml:space="preserve">P. Brutia</text>
<text x="659.00" y="370.00" font-size="8.4" text-anchor="middle" font-style="italic" fill="#262626" xml:space="preserve">C. Libani</text>
<text x="532.77" y="381.50" font-size="10.4" text-anchor="middle" fill="#262626" xml:space="preserve">Species</text>
<text x="350.30" y="276.60" font-size="10.4" text-anchor="middle" transform="rotate(-90 350.30 276.60)" fill="#262626" xml:space="preserve">Total Precipitation of JJA (mm)</text>
<text x="662.00" y="209.00" font-size="7.5" text-anchor="start" fill="#262626" xml:space="preserve">Prcp</text></g>
</svg>
</body></html>
